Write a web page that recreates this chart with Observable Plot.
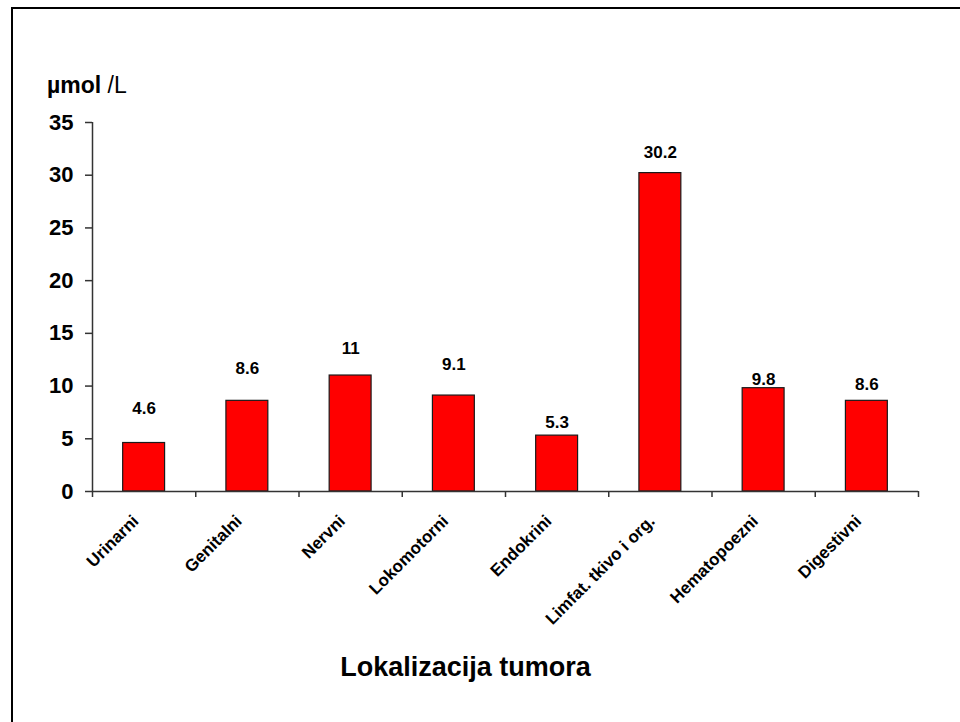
<!DOCTYPE html>
<html>
<head>
<meta charset="utf-8">
<script src="https://cdn.jsdelivr.net/npm/d3@7"></script>
<script src="https://cdn.jsdelivr.net/npm/@observablehq/plot@0.6"></script>
<style>
  html, body { margin: 0; padding: 0; background: #fff; overflow: hidden; }
  #wrap { position: relative; width: 960px; height: 722px; overflow: hidden; font-family: Arial, "Liberation Sans", sans-serif; }
  #frame { position: absolute; left: 11px; top: 7px; width: 2000px; height: 2000px; border-top: 2px solid #000; border-left: 2px solid #000; }
  #chart { position: absolute; left: 0; top: 0; }
  #ylabel { position: absolute; left: 47px; top: 74px; font-size: 23px; line-height: 1; color: #000; }
  #title { position: absolute; left: 0; width: 931px; top: 654px; text-align: center; font-size: 27px; font-weight: bold; line-height: 1; color: #000; }
</style>
</head>
<body>
<div id="wrap">
  <div id="frame"></div>
  <div id="chart"></div>
  <div id="ylabel"><b>µmol</b> /L</div>
  <div id="title">Lokalizacija tumora</div>
</div>
<script>
const categories = ["Urinarni", "Genitalni", "Nervni", "Lokomotorni", "Endokrini", "Limfat. tkivo i org.", "Hematopoezni", "Digestivni"];
const values = [4.6, 8.6, 11, 9.1, 5.3, 30.2, 9.8, 8.6];
const yTicks = [0, 5, 10, 15, 20, 25, 30, 35];

// label offsets above bar tops (px), as placed in the original
const labelDy = [-34, -32, -27, -31, -13, -21, -9, -16];

const font = "Arial, 'Liberation Sans', sans-serif";
const axisColor = "#333";

const valueLabels = values.map((v, i) =>
  Plot.text([v], {
    x: () => i + 0.5, y: d => d, text: d => String(d),
    dy: labelDy[i], lineAnchor: "middle", textAnchor: "middle",
    fontSize: 17, fontWeight: "bold", fill: "#000"
  })
);

const chart = Plot.plot({
  width: 960,
  height: 722,
  marginLeft: 92,
  marginRight: 42,
  marginTop: 122,
  marginBottom: 231,
  style: { fontFamily: font, background: "transparent", color: "#000" },
  x: { domain: [0, categories.length], axis: null },
  y: { domain: [0, 35], axis: null },
  marks: [
    Plot.rectY(values, {
      x1: (d, i) => i + 0.297, x2: (d, i) => i + 0.703, y1: 0, y2: d => d,
      fill: "#ff0000", stroke: "#1a1a1a", strokeWidth: 1.2
    }),
    Plot.ruleX([0], { stroke: axisColor, strokeWidth: 1.5 }),
    Plot.ruleY([0], { stroke: axisColor, strokeWidth: 1.5 }),
    Plot.axisY({
      ticks: yTicks, tickSize: 7, tickPadding: 12, tickFormat: d => String(d),
      fontSize: 22, fontWeight: "bold", stroke: axisColor, strokeWidth: 1.5, fill: "#000", label: null
    }),
    Plot.axisX({
      ticks: d3.range(0, categories.length + 1), tickSize: 6, tickFormat: () => "",
      stroke: axisColor, strokeWidth: 1.5, label: null
    }),
    Plot.text(categories, {
      x: (d, i) => i + 0.5, y: () => 0, text: d => d,
      rotate: -45, textAnchor: "end", lineAnchor: "top", dx: -13, dy: 22,
      fontSize: 17, fontWeight: "bold", fill: "#000"
    }),
    ...valueLabels
  ]
});
document.getElementById("chart").appendChild(chart);
</script>
</body>
</html>
